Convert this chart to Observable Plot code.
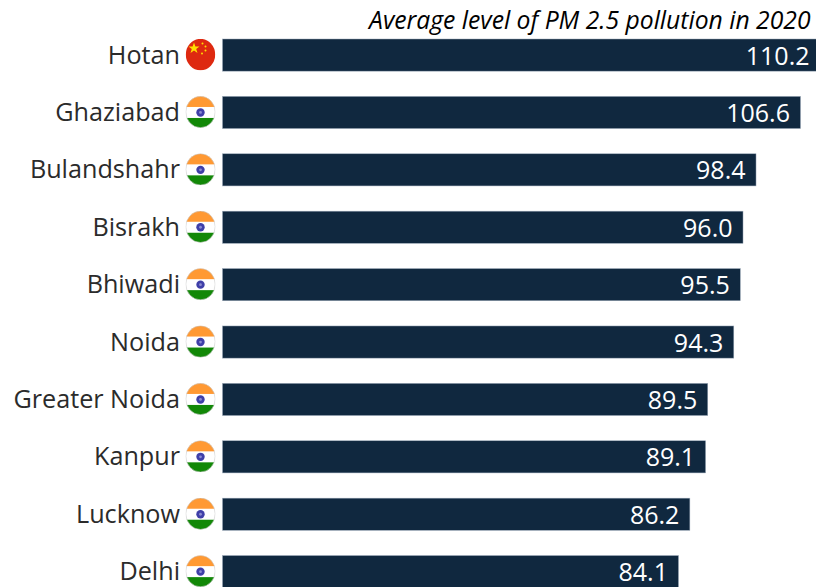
<!DOCTYPE html>
<html><head><meta charset="utf-8">
<script src="https://cdn.jsdelivr.net/npm/d3@7"></script>
<script src="https://cdn.jsdelivr.net/npm/@observablehq/plot@0.6"></script>
<style>html,body{margin:0;padding:0;background:#fff;overflow:hidden}svg{display:block}</style>
</head><body><div id="chart"></div>
<script>
const cities = ["Hotan","Ghaziabad","Bulandshahr","Bisrakh","Bhiwadi","Noida","Greater Noida","Kanpur","Lucknow","Delhi"];
const values = [110.2,106.6,98.4,96.0,95.5,94.3,89.5,89.1,86.2,84.1];
const countries = ["China","India","India","India","India","India","India","India","India","India"];
const chartTitle = "Average level of PM 2.5 pollution in 2020";

const chinaFlag = `<svg xmlns="http://www.w3.org/2000/svg" viewBox="0 0 30 32"><defs><clipPath id="c"><ellipse cx="15" cy="16" rx="14.7" ry="15.7"/></clipPath></defs><g clip-path="url(#c)"><rect width="30" height="32" fill="#de2910"/><polygon fill="#ffde00" points="8.5,4 9.9,8 14,8 10.7,10.5 12,14.5 8.5,12 5,14.5 6.3,10.5 3,8 7.1,8"/><circle cx="17" cy="5" r="1" fill="#ffde00"/><circle cx="20" cy="8" r="1" fill="#ffde00"/><circle cx="20" cy="12" r="1" fill="#ffde00"/><circle cx="16.5" cy="15" r="1" fill="#ffde00"/></g></svg>`;
const indiaFlag = `<svg xmlns="http://www.w3.org/2000/svg" viewBox="0 0 30 32"><defs><clipPath id="c"><ellipse cx="15" cy="16" rx="14.7" ry="15.7"/></clipPath></defs><g clip-path="url(#c)"><rect width="30" height="32" fill="#fff"/><rect width="30" height="11" fill="#ff9933"/><rect y="22" width="30" height="10" fill="#128807"/><circle cx="15" cy="16.5" r="4.2" fill="#3f3fa8"/><circle cx="15" cy="16.5" r="1.4" fill="#8a8ad0"/></g><ellipse cx="15" cy="16" rx="14.7" ry="15.7" fill="none" stroke="#c9c9c9" stroke-width="0.6"/></svg>`;
const uri = s => "data:image/svg+xml;charset=utf-8," + encodeURIComponent(s);
const flagFor = {China: uri(chinaFlag), India: uri(indiaFlag)};

const rows = cities.map((city,i)=>({city,value:values[i],country:countries[i]}));
const fmt = d3.format(".1f");

const plot = Plot.plot({
  width:816, height:587, margin:0,
  style:{background:"#fff", fontFamily:"'Open Sans', sans-serif"},
  x:{domain:[0,110.2], range:[222.5,820], axis:null},
  y:{domain:cities, range:[39,587.7], paddingInner:0.44, paddingOuter:0, align:0.5, round:false, axis:null},
  marks:[
    Plot.barX(rows,{y:"city",x:"value",fill:"#10283f",stroke:"#9aa8b8",strokeWidth:0.5}),
    Plot.text(rows,{x:"value",y:"city",text:d=>fmt(d.value),textAnchor:"end",dx:-11,dy:1,fill:"#fff",fontSize:25}),
    Plot.text(rows,{x:0,y:"city",text:"city",textAnchor:"end",dx:-43,fill:"#2b2b2b",fontSize:25.2}),
    Plot.image(rows,{x:0,y:"city",dx:-22.5,dy:-1,width:30,height:32,src:d=>flagFor[d.country]}),
    Plot.text([chartTitle],{frameAnchor:"top-right",dx:-6,dy:11,text:d=>d,textAnchor:"end",lineAnchor:"top",fill:"#000",fontSize:24.7,fontStyle:"italic"})
  ]
});
document.getElementById("chart").append(plot);
</script></body></html>
